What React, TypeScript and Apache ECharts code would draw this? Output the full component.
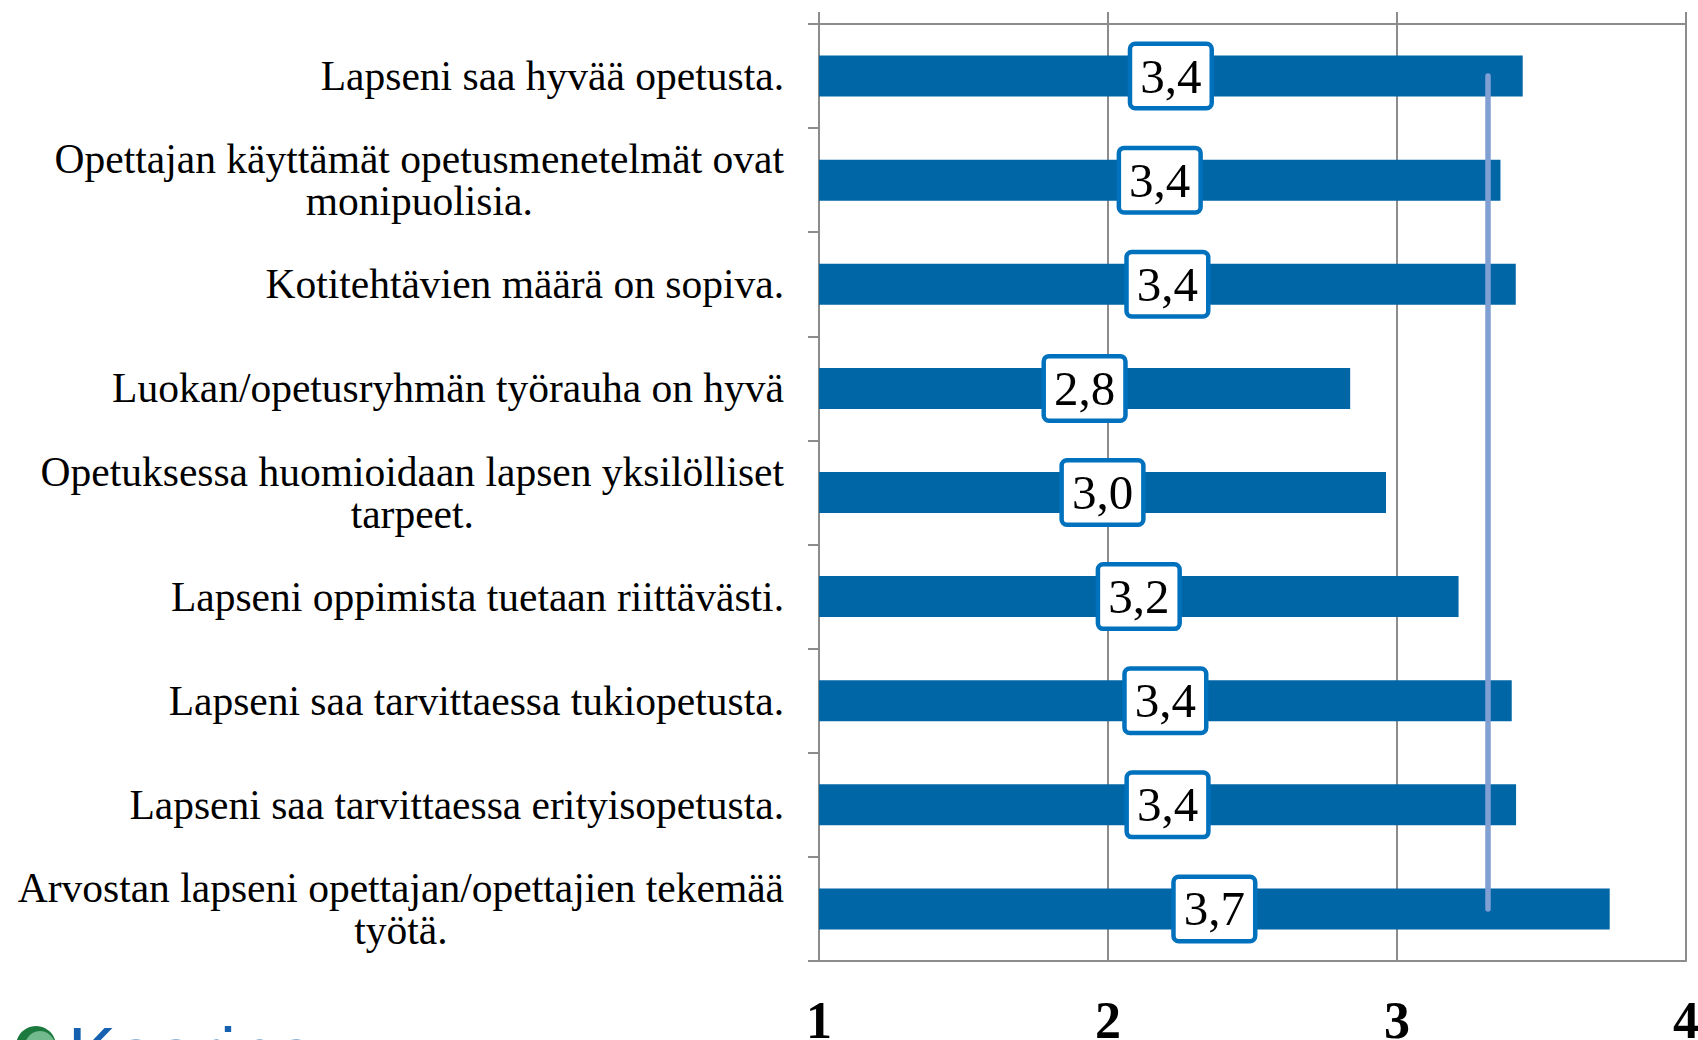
import React, { useEffect, useRef } from "react";
import * as echarts from "echarts";

const CATEGORIES = [
  "Lapseni saa hyvää opetusta.",
  "Opettajan käyttämät opetusmenetelmät ovat\nmonipuolisia.",
  "Kotitehtävien määrä on sopiva.",
  "Luokan/opetusryhmän työrauha on hyvä",
  "Opetuksessa huomioidaan lapsen yksilölliset\ntarpeet.",
  "Lapseni oppimista tuetaan riittävästi.",
  "Lapseni saa tarvittaessa tukiopetusta.",
  "Lapseni saa tarvittaessa erityisopetusta.",
  "Arvostan lapseni opettajan/opettajien tekemää\ntyötä.",
];
const VALUES = [3.435, 3.358, 3.411, 2.838, 2.962, 3.213, 3.397, 3.412, 3.736];
const AVERAGE = 3.314;
const AXIS_MIN = 1;
const AXIS_MAX = 4;
const AXIS_INTERVAL = 1;
const LOGO_TEXT = "Kaarina";

const GRID_COLOR = "#8c8c8c";
const BAR_COLOR = "#0066a6";
const LABEL_BORDER = "#0071bd";
const AVG_COLOR = "#809fd2";
const SERIF = "'Liberation Serif', 'Times New Roman', serif";

export default function App() {
  const ref = useRef<HTMLDivElement>(null);
  useEffect(() => {
    const chart = echarts.init(ref.current!, null, { renderer: "svg" });
    chart.setOption({
      animation: false,
      backgroundColor: "#ffffff",
      grid: {
        left: 819,
        right: 12,
        top: 24,
        bottom: 79,
        containLabel: false,
        outerBoundsMode: "none",
      },
      xAxis: [
        {
          type: "value",
          position: "top",
          min: AXIS_MIN,
          max: AXIS_MAX,
          interval: AXIS_INTERVAL,
          axisLine: { show: true, lineStyle: { color: GRID_COLOR, width: 2 } },
          axisTick: { show: true, length: 12, lineStyle: { color: GRID_COLOR, width: 2 } },
          axisLabel: { show: false },
          splitLine: { show: true, lineStyle: { color: GRID_COLOR, width: 2 } },
        },
        {
          type: "value",
          position: "bottom",
          min: AXIS_MIN,
          max: AXIS_MAX,
          interval: AXIS_INTERVAL,
          axisLine: { show: true, lineStyle: { color: GRID_COLOR, width: 2 } },
          axisTick: { show: false },
          splitLine: { show: false },
          axisLabel: {
            show: true,
            margin: 33,
            color: "#000",
            fontFamily: SERIF,
            fontWeight: "bold",
            fontSize: 52,
          },
        },
      ],
      yAxis: {
        type: "category",
        inverse: true,
        data: CATEGORIES,
        axisLine: { show: true, lineStyle: { color: GRID_COLOR, width: 2 } },
        axisTick: { show: true, length: 11, lineStyle: { color: GRID_COLOR, width: 2 } },
        splitLine: { show: false },
        axisLabel: {
          interval: 0,
          margin: 35,
          align: "right",
          formatter: (v: string) =>
            v
              .split("\n")
              .map((l) => `{c|${l}}`)
              .join("\n"),
          rich: {
            c: {
              fontFamily: SERIF,
              fontSize: 41.5,
              lineHeight: 42,
              color: "#000",
              align: "center",
            },
          },
        },
      },
      series: [
        {
          type: "bar",
          stack: "total",
          xAxisIndex: 0,
          data: VALUES.map(() => AXIS_MIN),
          barWidth: 41,
          itemStyle: { color: "rgba(0,0,0,0)" },
          silent: true,
        },
        {
          type: "bar",
          stack: "total",
          xAxisIndex: 0,
          data: VALUES.map((v) => v - AXIS_MIN),
          barWidth: 41,
          itemStyle: { color: BAR_COLOR },
          label: {
            show: true,
            position: "inside",
            formatter: (p: any) => VALUES[p.dataIndex].toFixed(1).replace(".", ","),
            fontFamily: SERIF,
            fontSize: 49,
            lineHeight: 48,
            color: "#000",
            backgroundColor: "#ffffff",
            borderColor: LABEL_BORDER,
            borderWidth: 4.5,
            borderRadius: 3,
            padding: [7, 8, 5, 8],
          },
          markLine: {
            silent: true,
            symbol: ["none", "none"],
            label: { show: false },
            lineStyle: { color: AVG_COLOR, width: 5.5, type: "solid", cap: "round" },
            data: [
              [
                { coord: [AVERAGE, CATEGORIES[0]] },
                { coord: [AVERAGE, CATEGORIES[CATEGORIES.length - 1]] },
              ],
            ],
          },
        },
      ],
      graphic: [
        {
          type: "circle",
          shape: { cx: 36, cy: 1046, r: 20 },
          style: { fill: "#1d7a3e" },
          z: 1,
        },
        {
          type: "circle",
          shape: { cx: 40, cy: 1046, r: 15 },
          style: { fill: "#72b98e" },
          z: 2,
        },
        {
          type: "text",
          x: 68,
          y: 1053,
          z: 2,
          style: {
            text: LOGO_TEXT,
            fill: "#1660b0",
            font: "72px 'Liberation Sans', Arial, sans-serif",
            verticalAlign: "middle",
            align: "left",
          },
        },
      ],
    });
    return () => chart.dispose();
  }, []);
  return (
    <div
      ref={ref}
      style={{ position: "fixed", left: 0, top: 0, width: 1698, height: 1040 }}
    />
  );
}
